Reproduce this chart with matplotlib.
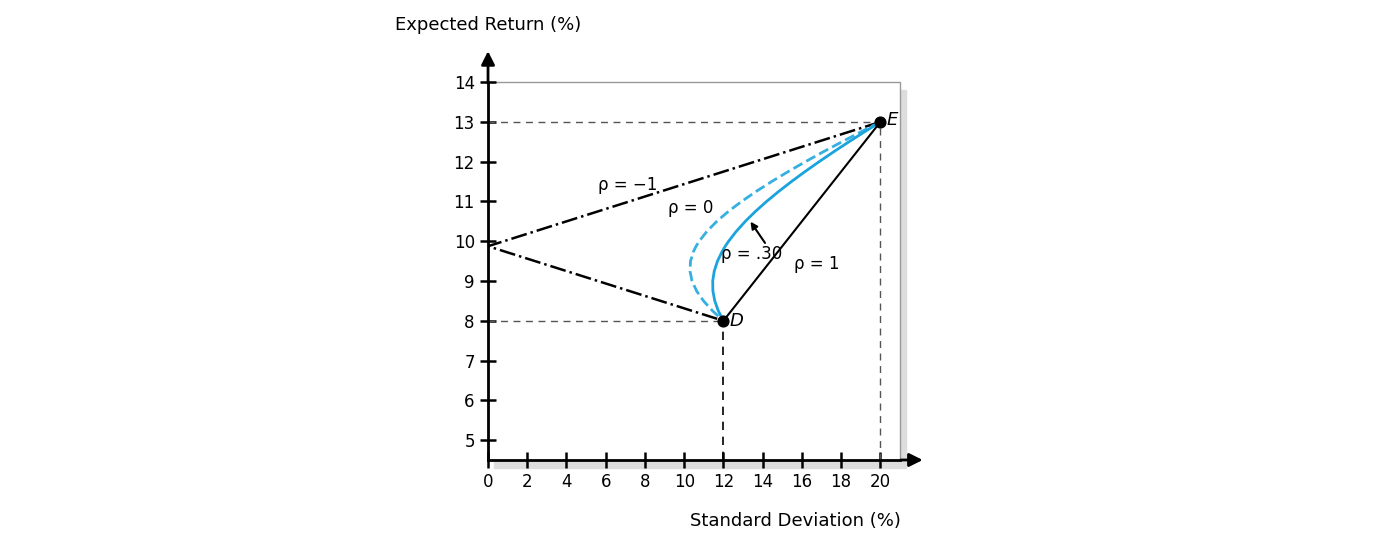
import numpy as np
import matplotlib.pyplot as plt
from matplotlib.patches import Rectangle

# two assets: D and E (std dev %, expected return %)
sd_D, r_D = 12, 8
sd_E, r_E = 20, 13
rhos = [-1, 0, 0.30, 1]
weights_D = [0, 0.05, 0.1, 0.15, 0.2, 0.25, 0.3, 0.35, 0.4, 0.45, 0.5, 0.55, 0.6,
             0.625, 0.65, 0.7, 0.75, 0.8, 0.85, 0.9, 0.95, 1.0]
xticks = [0, 2, 4, 6, 8, 10, 12, 14, 16, 18, 20]
yticks = [5, 6, 7, 8, 9, 10, 11, 12, 13, 14]


def frontier(rho):
    w = np.array(weights_D)
    ret = w * r_D + (1 - w) * r_E
    var = (w * sd_D) ** 2 + ((1 - w) * sd_E) ** 2 + 2 * w * (1 - w) * rho * sd_D * sd_E
    return np.sqrt(np.clip(var, 0, None)), ret


fig = plt.figure(figsize=(13.88, 5.54), dpi=100)
ax = fig.add_axes([0.3516, 0.1697, 0.2968, 0.682])
ax.set_xlim(0, 21)
ax.set_ylim(4.5, 14)

# shadow box
ax.add_patch(Rectangle((0.3, 4.3), 21, 9.5, color='#dddddd', zorder=0, clip_on=False))
ax.add_patch(Rectangle((0, 4.5), 21, 9.5, facecolor='white', edgecolor='#999999',
                       lw=1, zorder=0.5, clip_on=False))

for s in ['top', 'right']:
    ax.spines[s].set_visible(False)
ax.spines['left'].set_linewidth(2)
ax.spines['bottom'].set_linewidth(2)
ax.annotate('', xy=(0, 14.85), xytext=(0, 13.9),
            arrowprops=dict(arrowstyle='-|>', color='black', lw=2, mutation_scale=20),
            annotation_clip=False)
ax.annotate('', xy=(22.3, 4.5), xytext=(20.9, 4.5),
            arrowprops=dict(arrowstyle='-|>', color='black', lw=2, mutation_scale=20),
            annotation_clip=False)

ax.set_xticks(xticks)
ax.set_yticks(yticks)
ax.tick_params(direction='inout', length=12, width=1.8, labelsize=12)

# dashed guides
g = dict(color='#555555', ls=(0, (5, 4)), lw=1)
ax.plot([0, sd_E], [r_E, r_E], **g)
ax.plot([sd_E, sd_E], [4.5, r_E], **g)
ax.plot([0, sd_D], [r_D, r_D], **g)
ax.plot([sd_D, sd_D], [4.5, r_D], color='black', ls=(0, (5, 4)), lw=1.2)

styles = {-1: dict(color='black', ls='-.', lw=1.8),
          0: dict(color='#35b0e0', ls='--', lw=2),
          0.30: dict(color='#1aa3dc', ls='-', lw=2),
          1: dict(color='black', ls='-', lw=1.5)}
for rho in rhos:
    x, y = frontier(rho)
    ax.plot(x, y, **styles[rho], zorder=3)

ax.scatter([sd_D, sd_E], [r_D, r_E], s=60, color='black', zorder=5)
ax.text(sd_D + 0.3, r_D, 'D', fontsize=13, style='italic', va='center')
ax.text(sd_E + 0.3, r_E + 0.05, 'E', fontsize=13, style='italic', va='center')

ax.text(5.6, 11.3, 'ρ = −1', fontsize=12)
ax.text(9.2, 10.7, 'ρ = 0', fontsize=12)
ax.text(11.9, 9.55, 'ρ = .30', fontsize=12)
ax.text(15.6, 9.3, 'ρ = 1', fontsize=12)
ax.annotate('', xy=(13.3, 10.55), xytext=(14.2, 9.9),
            arrowprops=dict(arrowstyle='-|>', color='black', lw=1.5))

fig.text(0.3516, 0.955, 'Expected Return (%)', fontsize=13, ha='center', va='center')
fig.text(0.573, 0.06, 'Standard Deviation (%)', fontsize=13, ha='center', va='center')

fig.savefig('out.png', dpi=100)
